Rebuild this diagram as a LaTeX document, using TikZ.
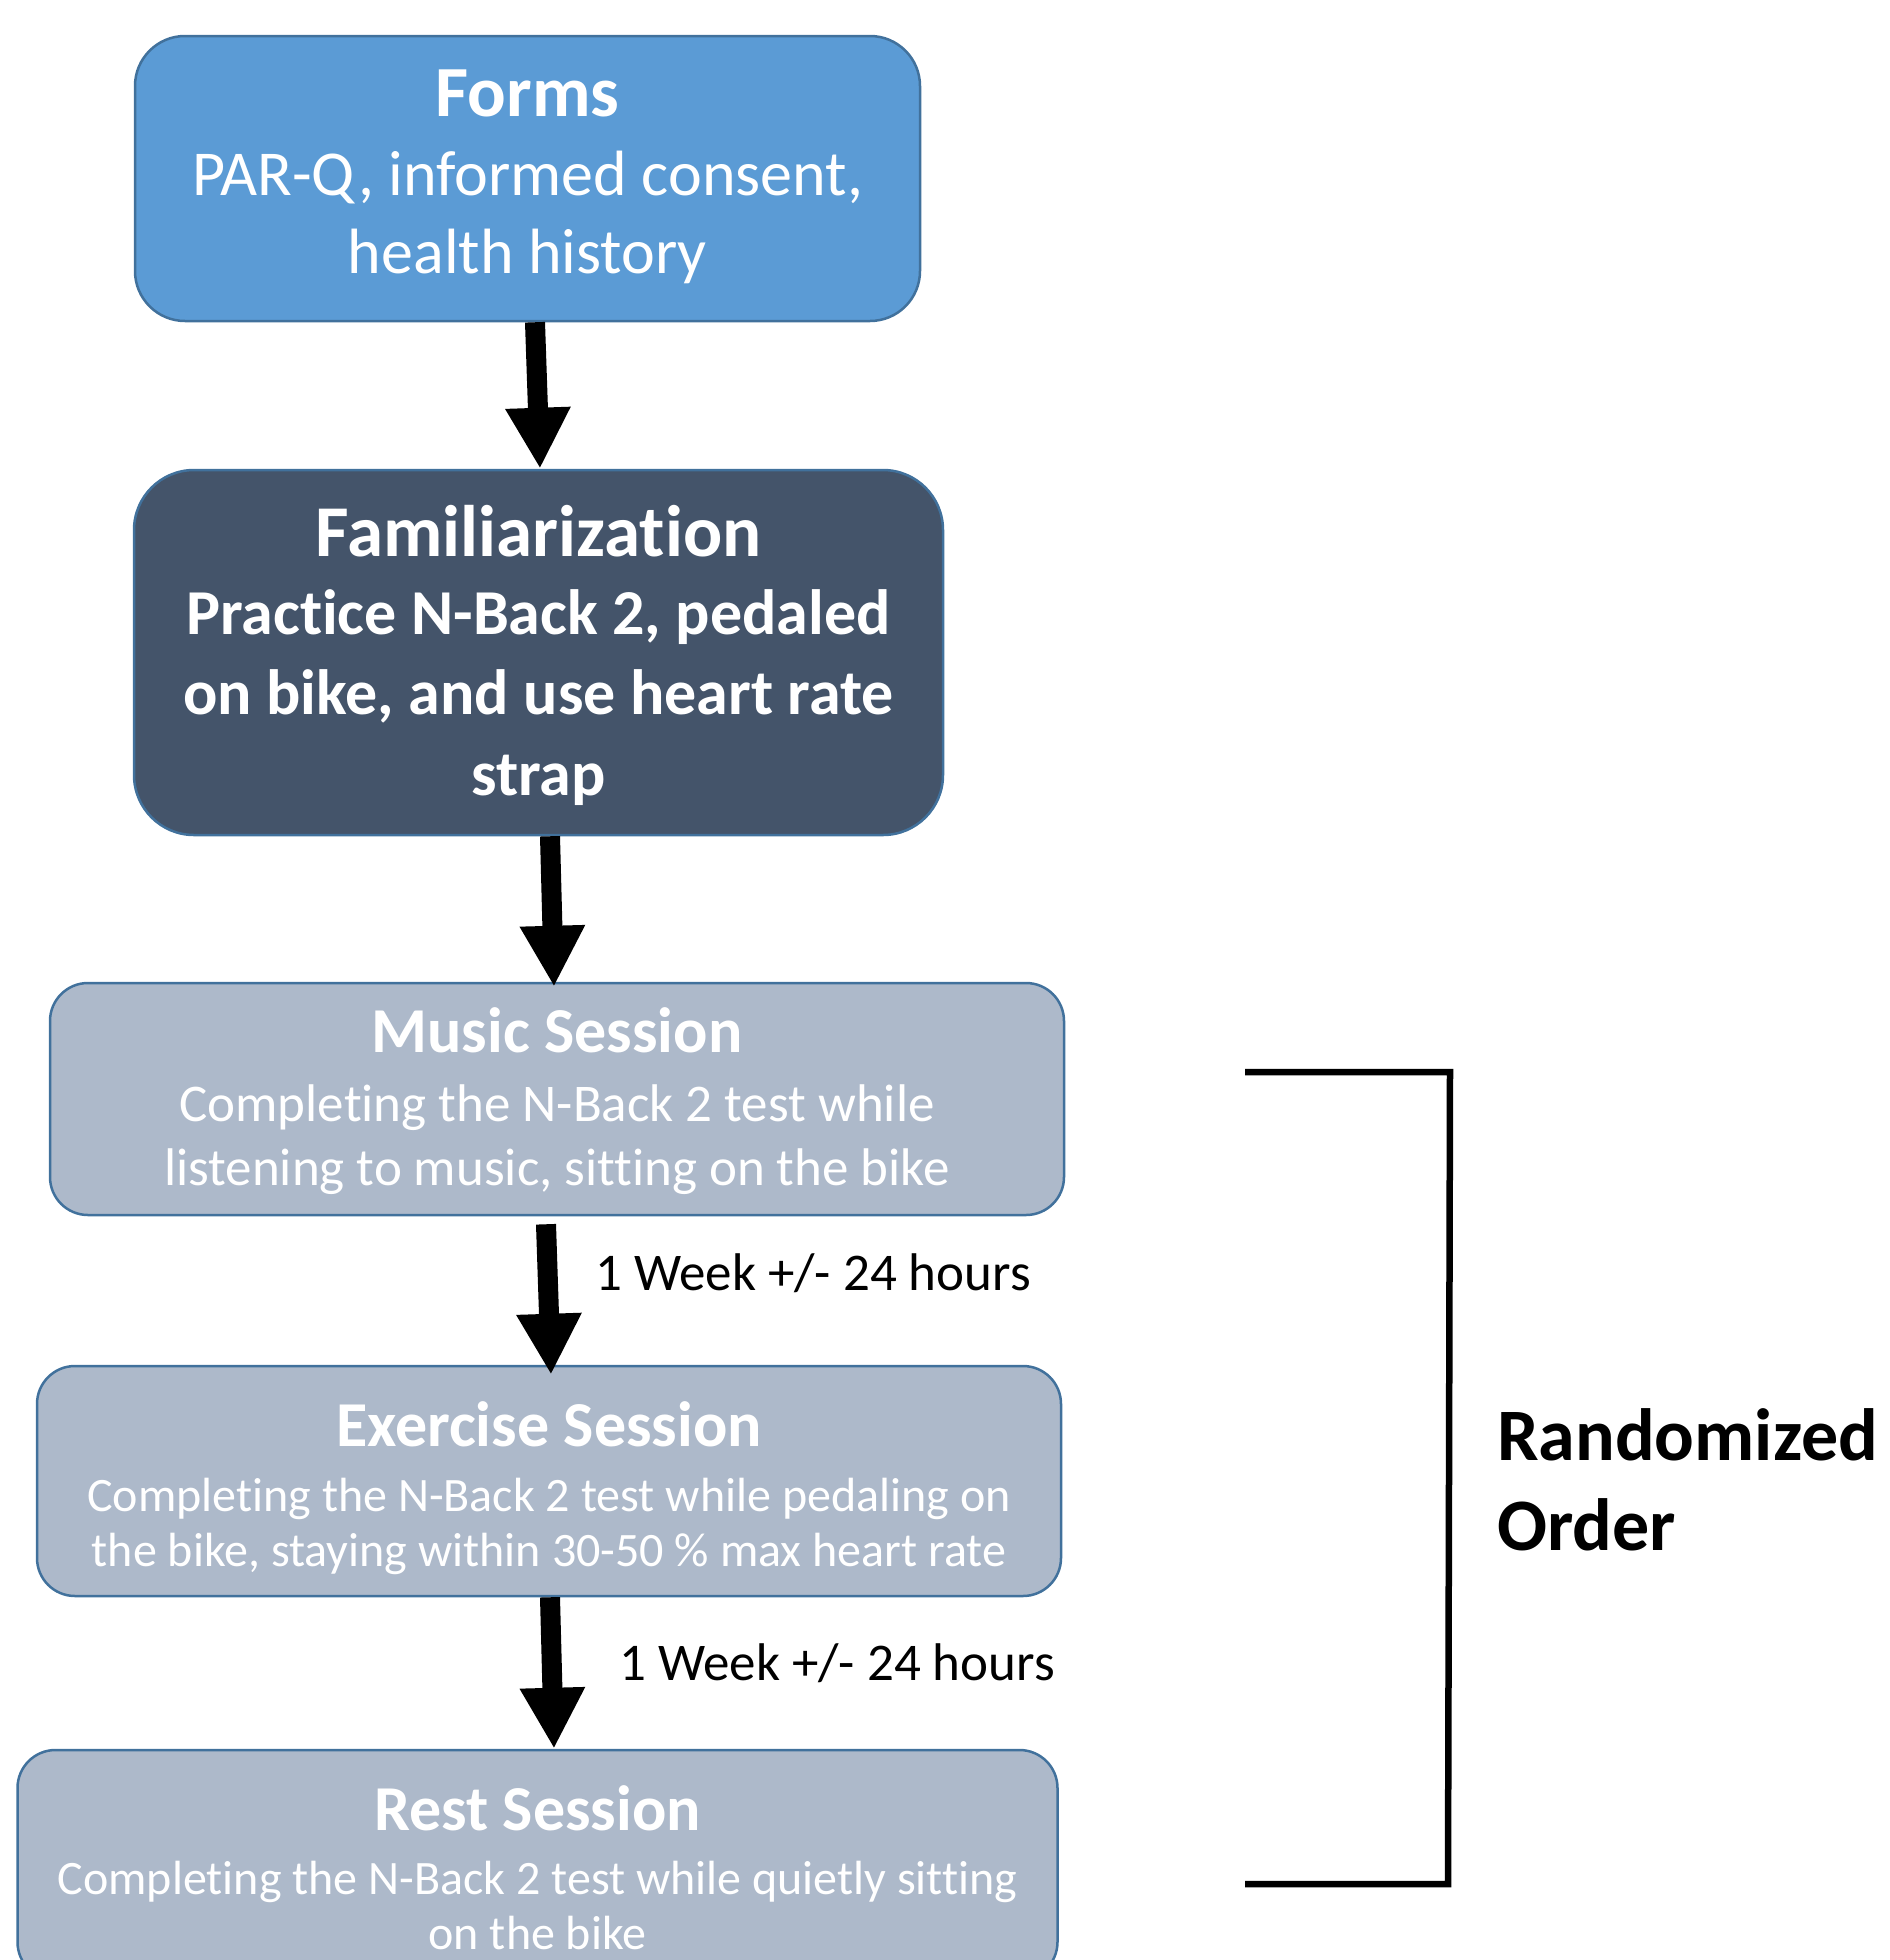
\documentclass[tikz,border=0pt]{standalone}
\usepackage{fontspec}
\setmainfont{Carlito}[Ligatures={NoCommon}]
\usetikzlibrary{arrows.meta}
\definecolor{formsfill}{HTML}{5B9BD5}
\definecolor{boxline}{HTML}{41719C}
\definecolor{famfill}{HTML}{44546A}
\definecolor{sessfill}{HTML}{ADB9CA}
\begin{document}
\begin{tikzpicture}[x=1pt,y=-1pt,
  box/.style={rectangle, draw=boxline, line width=2.5pt, inner sep=0pt},
  boxtext/.style={text=white, align=center, inner sep=0pt},
  bigarrow/.style={line width=20pt, -{Triangle[width=61pt,length=61pt]}},
  lbl/.style={inner sep=0pt, anchor=base west, text=black, font=\fontsize{53}{64}\selectfont},
  randlbl/.style={inner sep=0pt, anchor=base west, text=black, font=\fontsize{74}{90}\selectfont\bfseries},
  bracketline/.style={line width=6.5pt, draw=black, miter limit=10}
]
\useasboundingbox (0,0) rectangle (1890,1960);
\clip (0,0) rectangle (1890,1960);

% boxes
\node[box, fill=formsfill, rounded corners=50pt, minimum width=785pt, minimum height=285pt] (forms) at (527.5,178.5) {};
\node[box, fill=famfill, rounded corners=60pt, minimum width=809pt, minimum height=365pt] (fam) at (538.5,652.5) {};
\node[box, fill=sessfill, rounded corners=38pt, minimum width=1014pt, minimum height=232pt] (music) at (557,1099) {};
\node[box, fill=sessfill, rounded corners=38pt, minimum width=1024pt, minimum height=230pt] (exer) at (549,1481) {};
\node[box, fill=sessfill, rounded corners=38pt, minimum width=1040pt, minimum height=230pt] (rest) at (537.5,1865) {};

% box texts
\node[boxtext, font=\fontsize{64}{78}\selectfont] (formstxt) at ([yshift=2pt]forms.center)
  {{\fontsize{72}{86}\selectfont\bfseries Forms}\\[1pt] PAR-Q, informed consent,\\ health history};
\node[boxtext, font=\fontsize{64}{80}\selectfont\bfseries] (famtxt) at ([yshift=-3pt]fam.center)
  {{\fontsize{73}{88}\selectfont Familiarization}\\[-2pt] Practice N-Back 2, pedaled\\ on bike, and use heart rate\\[1pt] strap};
\node[boxtext, font=\fontsize{53}{64}\selectfont] (musictxt) at ([yshift=-2.5pt]music.center)
  {{\fontsize{64}{78}\selectfont\bfseries Music Session}\\[5pt] Completing the N-Back 2 test while\\ listening to music, sitting on the bike};
\node[boxtext, font=\fontsize{48}{55}\selectfont] (exertxt) at ([yshift=-7pt]exer.center)
  {{\fontsize{64}{78}\selectfont\bfseries Exercise Session}\\[10.5pt] Completing the N-Back 2 test while pedaling on\\ the bike, staying within 30-50 \% max heart rate};
\node[boxtext, font=\fontsize{48}{55}\selectfont] (resttxt) at ([yshift=-2.5pt]rest.center)
  {{\fontsize{64}{78}\selectfont\bfseries Rest Session}\\[9pt] Completing the N-Back 2 test while quietly sitting\\ on the bike};

% arrows
\draw[bigarrow] ([xshift=7.5pt]forms.south) -- ([xshift=1.5pt]fam.north);
\draw[bigarrow] ([xshift=11.5pt]fam.south) -- ([xshift=-3pt,yshift=-5pt]music.north);
\draw[bigarrow] ([xshift=-11pt,yshift=-8pt]music.south) -- ([xshift=2pt,yshift=-10pt]exer.north);
\draw[bigarrow] ([xshift=1pt]exer.south) -- ([xshift=16.5pt]rest.north);

\node[lbl] (wk1) at (595,1290) {1 Week +/- 24 hours};
\node[lbl] (wk2) at (619,1680) {1 Week +/- 24 hours};

% bracket
\coordinate (br1) at (1245,1072);
\coordinate (br2) at (1450,1072);
\coordinate (br3) at (1448,1884);
\coordinate (br4) at (1245,1884);
\draw[bracketline] (br1) -- (br2) -- (br3) -- (br4);

\node[randlbl] (rand1) at (1497,1460) {Randomized};
\node[randlbl] (rand2) at (1497,1550) {Order};
\end{tikzpicture}
\end{document}
